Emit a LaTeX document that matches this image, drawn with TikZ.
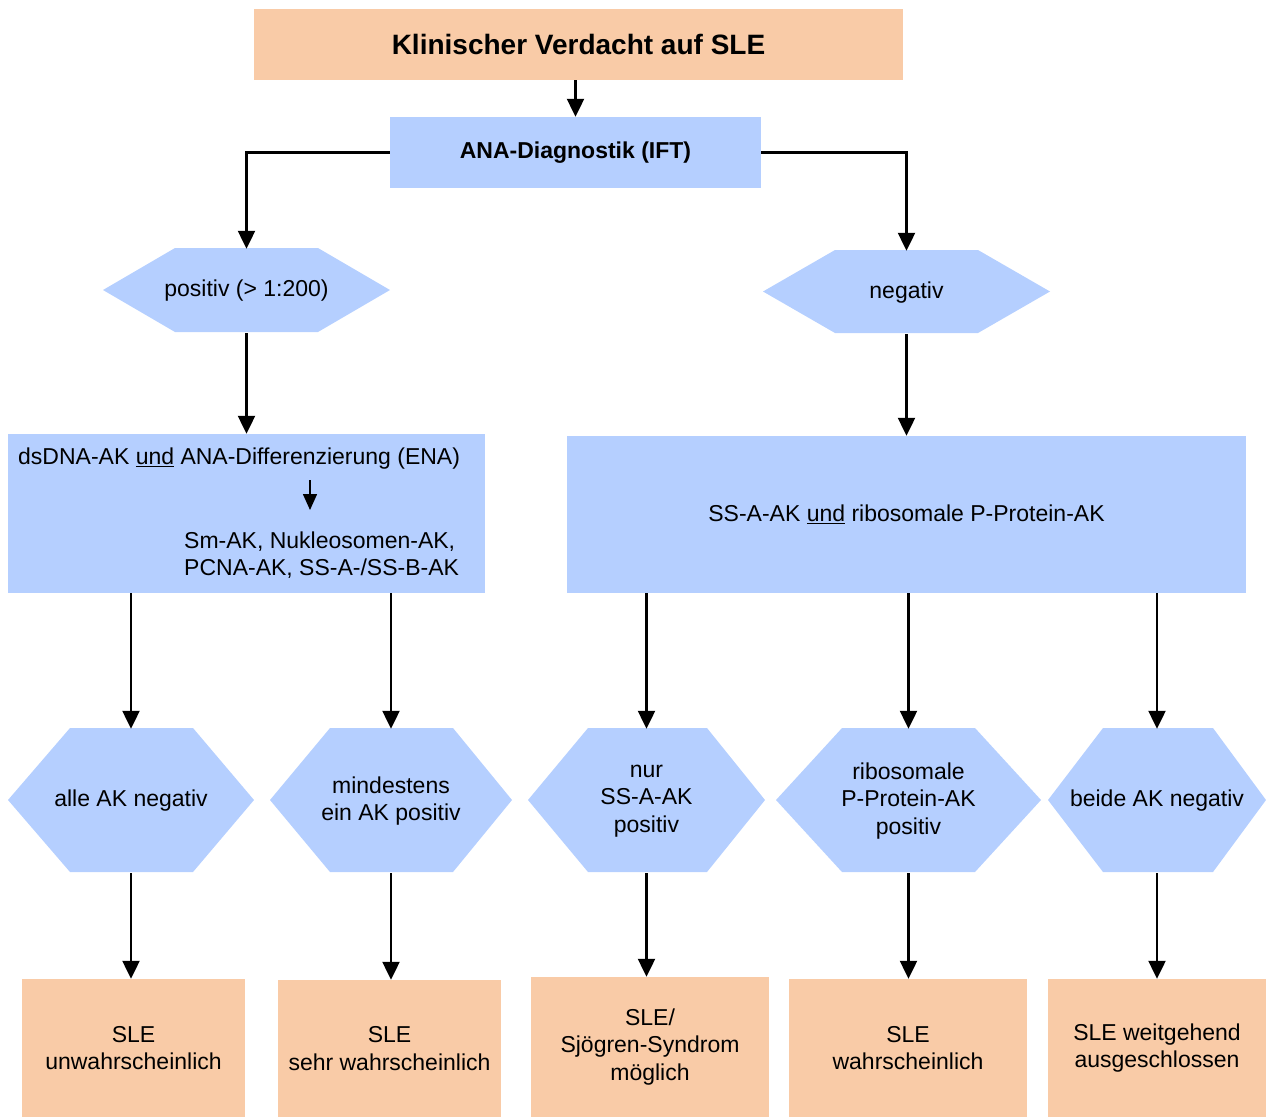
\documentclass[tikz,border=0pt]{standalone}
\usepackage{fontspec}
\setmainfont{Liberation Sans}
\usetikzlibrary{arrows.meta}
\definecolor{peach}{RGB}{249,203,167}
\definecolor{paleblue}{RGB}{181,207,255}

\begin{document}
\begin{tikzpicture}
[every node/.style={inner sep=0pt, align=center, font=\fontsize{23pt}{27.5pt}\selectfont},
 resultbox/.style={rectangle, fill=peach},
 testbox/.style={rectangle, fill=paleblue},
 hexfill/.style={fill=paleblue},
 flow/.style={line width=2.2pt, -{Triangle[length=18pt, width=17pt]}, color=black},
 subflow/.style={line width=1.5pt, -{Triangle[length=16pt, width=14pt]}, color=black}]
\useasboundingbox (0pt, 0pt) rectangle (1266pt, -1117pt);
% hexagons
\fill [hexfill] (103pt, -290pt) -- (175pt, -248pt) -- (318pt, -248pt) -- (390pt, -290pt) -- (318pt, -332pt) -- (175pt, -332pt) -- cycle;
\fill [hexfill] (763pt, -291.5pt) -- (835pt, -250pt) -- (978pt, -250pt) -- (1050pt, -291.5pt) -- (978pt, -333pt) -- (835pt, -333pt) -- cycle;
\fill [hexfill] (8pt, -800pt) -- (70pt, -728pt) -- (193pt, -728pt) -- (254pt, -800pt) -- (193pt, -872pt) -- (70pt, -872pt) -- cycle;
\fill [hexfill] (270pt, -800pt) -- (330pt, -728pt) -- (453pt, -728pt) -- (512pt, -800pt) -- (453pt, -872pt) -- (330pt, -872pt) -- cycle;
\fill [hexfill] (528pt, -800pt) -- (588pt, -728pt) -- (707pt, -728pt) -- (765pt, -800pt) -- (707pt, -872pt) -- (588pt, -872pt) -- cycle;
\fill [hexfill] (776pt, -800pt) -- (842pt, -728pt) -- (975pt, -728pt) -- (1041pt, -800pt) -- (975pt, -872pt) -- (842pt, -872pt) -- cycle;
\fill [hexfill] (1048pt, -800pt) -- (1103pt, -728pt) -- (1213pt, -728pt) -- (1266pt, -800pt) -- (1213pt, -872pt) -- (1103pt, -872pt) -- cycle;
% boxes
\node (verdacht) [resultbox, minimum width=649pt, minimum height=71pt, font=\fontsize{28pt}{33pt}\selectfont\bfseries] at (578.5pt, -44.5pt) {Klinischer Verdacht auf SLE};
\node (ana) [testbox, minimum width=371pt, minimum height=71pt, font=\fontsize{23pt}{27.5pt}\selectfont\bfseries] at (575.5pt, -152.5pt) {ANA-Diagnostik (IFT)};
\node (pos) [minimum height=84pt] at (246.5pt, -291pt) {positiv (> 1:200)};
\node (neg) [minimum height=83pt] at (906.5pt, -292.5pt) {negativ};
\node (dsdna) [testbox, minimum width=477pt, minimum height=159pt] at (246.5pt, -513.5pt) {};
\node (ena) [anchor=west] at (18pt, -459pt) {dsDNA-AK \underline{und} ANA-Differenzierung (ENA)};
\node (subtypes) [anchor=west, align=left] at (184pt, -555pt) {Sm-AK, Nukleosomen-AK,\\PCNA-AK, SS-A-/SS-B-AK};
\coordinate (enafrom) at (310pt, -480pt);
\coordinate (enato) at (310pt, -510pt);
\node (ssa) [testbox, minimum width=679pt, minimum height=157pt] at (906.5pt, -514.5pt) {SS-A-AK \underline{und} ribosomale P-Protein-AK};
\node (alleneg) [minimum height=144pt] at (131pt, -801pt) {alle AK negativ};
\node (einpos) [minimum height=144pt] at (391pt, -801pt) {mindestens\\ein AK positiv};
\node (nurssa) [minimum height=144pt] at (646.5pt, -801pt) {nur\\SS-A-AK\\positiv};
\node (ribopos) [minimum height=144pt] at (908.5pt, -801pt) {ribosomale\\P-Protein-AK\\positiv};
\node (beideneg) [minimum height=144pt] at (1157pt, -801pt) {beide AK negativ};
\node (unwahr) [resultbox, minimum width=223pt, minimum height=138pt] at (133.5pt, -1048pt) {SLE\\unwahrscheinlich};
\node (sehrwahr) [resultbox, minimum width=223pt, minimum height=137pt] at (389.5pt, -1048.5pt) {SLE\\sehr wahrscheinlich};
\node (sjoegren) [resultbox, minimum width=238pt, minimum height=140pt] at (650pt, -1047pt) {SLE/\\Sjögren-Syndrom\\möglich};
\node (wahr) [resultbox, minimum width=238pt, minimum height=138pt] at (908pt, -1048pt) {SLE\\wahrscheinlich};
\node (ausgeschl) [resultbox, minimum width=218pt, minimum height=138pt] at (1157pt, -1048pt) {SLE weitgehend\\ausgeschlossen};
% connectors
\draw [flow] (ana.north |- verdacht.south) to (ana.north);
\draw [flow] (ana.west) -| (pos.north);
\draw [flow] (ana.east) -| (neg.north);
\draw [flow] (pos.south) to (pos.south |- dsdna.north);
\draw [flow] (neg.south) to (neg.south |- ssa.north);
\draw [subflow] (enafrom) to (enato);
\draw [flow] (dsdna.south -| alleneg.north) to (alleneg.north);
\draw [flow] (dsdna.south -| einpos.north) to (einpos.north);
\draw [flow] (ssa.south -| nurssa.north) to (nurssa.north);
\draw [flow] (ssa.south -| ribopos.north) to (ribopos.north);
\draw [flow] (ssa.south -| beideneg.north) to (beideneg.north);
\draw [flow] (alleneg.south) to (alleneg.south |- unwahr.north);
\draw [flow] (einpos.south) to (einpos.south |- sehrwahr.north);
\draw [flow] (nurssa.south) to (nurssa.south |- sjoegren.north);
\draw [flow] (ribopos.south) to (ribopos.south |- wahr.north);
\draw [flow] (beideneg.south) to (beideneg.south |- ausgeschl.north);
\end{tikzpicture}
\end{document}
